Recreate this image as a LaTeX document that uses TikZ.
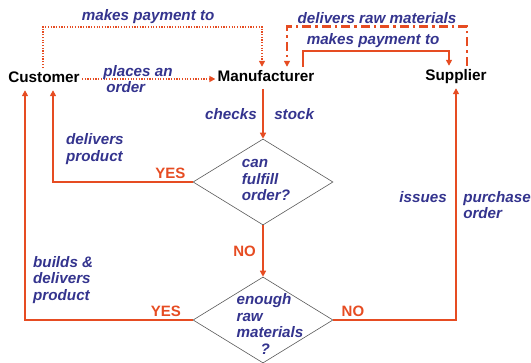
\documentclass[tikz,border=0pt]{standalone}
\usepackage{fontspec}
\setmainfont{Liberation Sans}
\usetikzlibrary{shapes.geometric,arrows.meta}
\definecolor{flowred}{RGB}{230,76,34}
\definecolor{lblblue}{RGB}{52,52,142}

\begin{document}
\begin{tikzpicture}[x=1pt,y=-1pt,>={Triangle[length=6pt,width=6pt]},
  party/.style={font=\fontsize{15.3}{17}\selectfont\bfseries,text height=11pt,text depth=3pt,inner xsep=2pt,inner ysep=4pt},
  decision/.style={diamond,draw=gray!70!black,line width=0.6pt,minimum width=140pt,minimum height=86pt,inner sep=0pt},
  lbl/.style={font=\fontsize{15.2}{16.5}\selectfont\bfseries\itshape,text=lblblue,align=left,inner sep=2pt},
  answer/.style={font=\fontsize{15}{17}\selectfont\bfseries,text=flowred,inner sep=2pt},
  flow/.style={draw=flowred,line width=2.5pt},
  dotflow/.style={draw=flowred,line width=2pt,dash pattern=on 1.2pt off 1.5pt},
  dashdotflow/.style={draw=flowred,line width=2.6pt,dash pattern=on 9pt off 4pt on 2.5pt off 4pt}]

  \useasboundingbox (0,0) rectangle (531,363);

  \node[party] (cust) at (44,79) {Customer};
  \node[party] (manu) at (266,78) {Manufacturer};
  \node[party] (supp) at (456,77) {Supplier};

  \node[decision] (fulfil) at (263,182) {};
  \node[lbl] (fulfiltxt) at (266,180) {can\\fulfill\\order?};
  \node[decision] (enough) at (263,320) {};
  \node[lbl] (enoughtxt) at (270,324) {enough\\raw\\materials\\\hspace*{24pt}?};

  % top connectors
  \draw[dotflow,->] ([xshift=-1pt]cust.north) -- ++(0,-41)
     -| node[lbl,above,pos=0.24] {makes payment to} ([xshift=-4pt]manu.north);
  \draw[dashdotflow,->] ([xshift=11pt]supp.north) -- ++(0,-39)
     -| node[lbl,above,pos=0.25] {delivers raw materials} ([xshift=21pt]manu.north);
  \draw[flow,->] ([xshift=37pt]manu.north) -- ++(0,-16)
     -| node[lbl,above,pos=0.24] {makes payment to} ([xshift=-7pt]supp.north);
  \draw[dotflow,->] (cust.east) -- node[lbl,pos=0.42] {places an\\\hspace*{3pt}order} (cust.east -| manu.west);

  % decisions
  \draw[flow,->] (manu.south -| fulfil.north) -- node[lbl,left=3pt] {checks}
     node[lbl,right=8pt] {stock} (fulfil.north);
  \draw[flow,->] (fulfil.south) -- node[answer,left=4pt] {NO} (enough.north);
  \draw[flow,->] (fulfil.west) -| node[answer,above,pos=0.08] {YES} ([xshift=9pt]cust.south);
  \draw[flow,->] (enough.west) -| node[answer,above,pos=0.08] {YES} ([xshift=-19pt]cust.south);
  \draw[flow,->] (enough.east) -| node[answer,above,pos=0.08] {NO}
     node[lbl,left=6pt,pos=0.765] {issues}
     node[lbl,right=4pt,pos=0.748] {purchase\\order} (supp.south);

  \node[lbl,anchor=west] (delivlbl) at (64,149) {delivers\\product};
  \node[lbl,anchor=west] (buildlbl) at (31,280) {builds \&\\delivers\\product};
\end{tikzpicture}
\end{document}
